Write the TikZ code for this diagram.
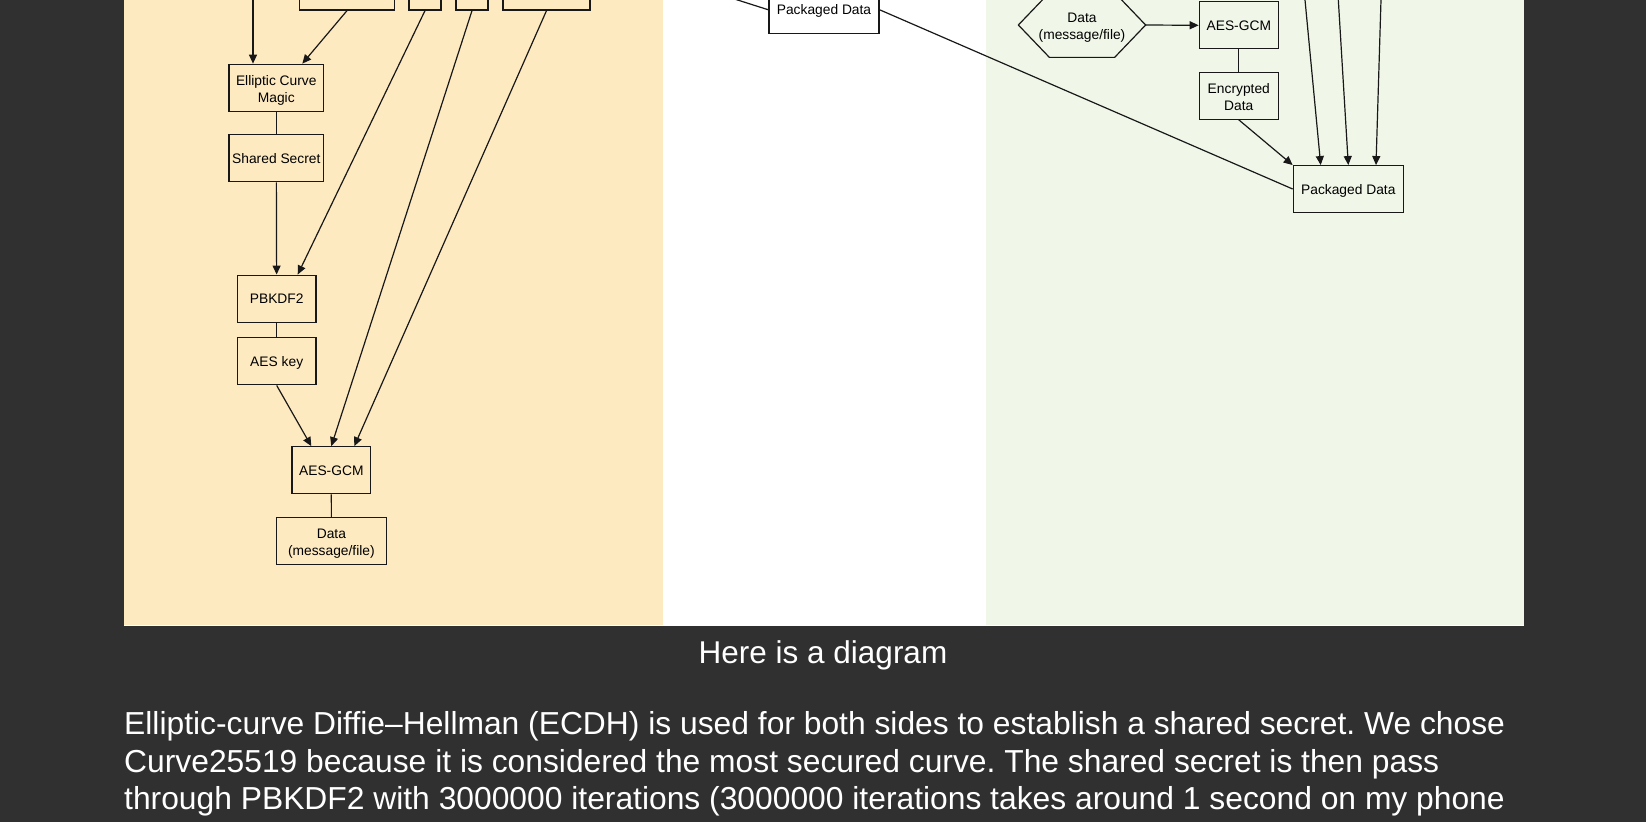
\documentclass[tikz,border=0pt]{standalone}
\usepackage{fontspec}
\setmainfont{Liberation Sans}
\usetikzlibrary{arrows.meta}
\definecolor{pagebg}{RGB}{48,48,48}
\definecolor{sendbg}{RGB}{254,234,193}
\definecolor{recvbg}{RGB}{240,246,232}
\definecolor{inkline}{RGB}{24,24,24}
\frenchspacing
\begin{document}
\begin{tikzpicture}[x=1pt,y=-1pt,
  box/.style={draw=inkline,line width=1.3pt,inner sep=0pt,align=center,
    font=\fontsize{13.8}{17}\selectfont,minimum height=47pt,text height=10pt,text depth=0pt},
  twoline/.style={text height=29pt,text depth=0pt},
  arr/.style={draw=inkline,line width=1.2pt,-{Triangle[length=9pt,width=8pt]}},
  lnk/.style={draw=inkline,line width=1.2pt},
  para/.style={text=white,font=\fontsize{31.8}{37}\selectfont,anchor=base west,inner sep=0pt}]
\useasboundingbox (0,0) rectangle (1646,822);
\clip (0,0) rectangle (1646,822);
%\draw[step=50,gray,very thin] (0,0) grid (1646,822); %background grid
\fill[pagebg] (0,0) rectangle (1646,822);
\fill[white] (124,0) rectangle (1524,626);
\fill[sendbg] (124,0) rectangle (663,625);
\fill[recvbg] (985.5,0) rectangle (1524,625);

% left panel
\coordinate (inL) at (253,-40);
\node[box,minimum width=95pt] (k1) at (347,-13.5) {};
\node[box,minimum width=32pt] (k2) at (425,-13.5) {};
\node[box,minimum width=32pt] (k3) at (472,-13.5) {};
\node[box,minimum width=87pt] (k4) at (546.5,-13.5) {};
\node[box,twoline,minimum width=94.6pt] (ecm) at (276.3,87.8) {Elliptic Curve\\Magic};
\node[box,minimum width=94.6pt] (shared) at (276.3,158.3) {Shared Secret};
\node[box,minimum width=78.5pt] (pbkdf) at (276.7,298.7) {PBKDF2};
\node[box,minimum width=78.5pt] (aeskey) at (276.7,361.3) {AES key};
\node[box,minimum width=78.7pt] (gcmL) at (331.3,470.3) {AES-GCM};
\node[box,twoline,minimum width=110pt] (dataL) at (331.4,541.2) {Data\\(message/file)};
\draw[arr] (inL) -- (inL |- ecm.north);
\draw[arr] (k1.south) -- ([xshift=26pt]ecm.north);
\draw[lnk] (ecm) -- (shared);
\draw[arr] (shared) -- (pbkdf);
\draw[arr] (k2.south) -- ([xshift=21pt]pbkdf.north);
\draw[lnk] (pbkdf) -- (aeskey);
\draw[arr] (aeskey.south) -- ([xshift=-20pt]gcmL.north);
\draw[arr] (k3.south) -- (gcmL.north);
\draw[arr] (k4.south) -- ([xshift=23pt]gcmL.north);
\draw[lnk] (gcmL) -- (dataL);

% middle
\coordinate (inM) at (612,-40);
\node[box,minimum width=110pt] (pdM) at (824,9.8) {Packaged Data};
\draw[lnk] (inM) -- (pdM.west);

% right panel
\coordinate (r1) at (1301.2,-40);
\coordinate (r2) at (1335.9,-40);
\coordinate (r3) at (1382.2,-40);
\node[box,twoline,draw=none,minimum width=126pt,minimum height=63.4pt] (hexR) at (1082,25) {Data\\(message/file)};
\draw[lnk] (hexR.west) -- ([xshift=31pt]hexR.north west) -- ([xshift=-31pt]hexR.north east)
  -- (hexR.east) -- ([xshift=-31pt]hexR.south east) -- ([xshift=31pt]hexR.south west) -- cycle;
\node[box,minimum width=79pt] (gcmR) at (1238.8,25.3) {AES-GCM};
\node[box,twoline,minimum width=79pt] (encR) at (1238.8,95.7) {Encrypted\\Data};
\node[box,minimum width=110pt,minimum height=46.6pt] (pdR) at (1348.3,189) {Packaged Data};
\draw[arr] (hexR.east) -- (gcmR.west);
\draw[lnk] (gcmR) -- (encR);
\draw[arr] (encR.south) -- (pdR.north west);
\draw[arr] (r1) -- ([xshift=-27.6pt]pdR.north);
\draw[arr] (r2) -- (pdR.north);
\draw[arr] (r3) -- ([xshift=27.7pt]pdR.north);
\draw[lnk] (pdM.east) -- (pdR.west);

% caption and text
\node[text=white,font=\fontsize{31.5}{37}\selectfont,anchor=base] (cap) at (823,663) {Here is a diagram};
\node[para] (par1) at (124,734.7) {Elliptic-curve Diffie–Hellman (ECDH) is used for both sides to establish a shared secret. We chose};
\node[para] (par2) at (124,772) {Curve25519 because it is considered the most secured curve. The shared secret is then pass};
\node[para] (par3) at (124,809.7) {through PBKDF2 with 3000000 iterations (3000000 iterations takes around 1 second on my phone};
\end{tikzpicture}
\end{document}
